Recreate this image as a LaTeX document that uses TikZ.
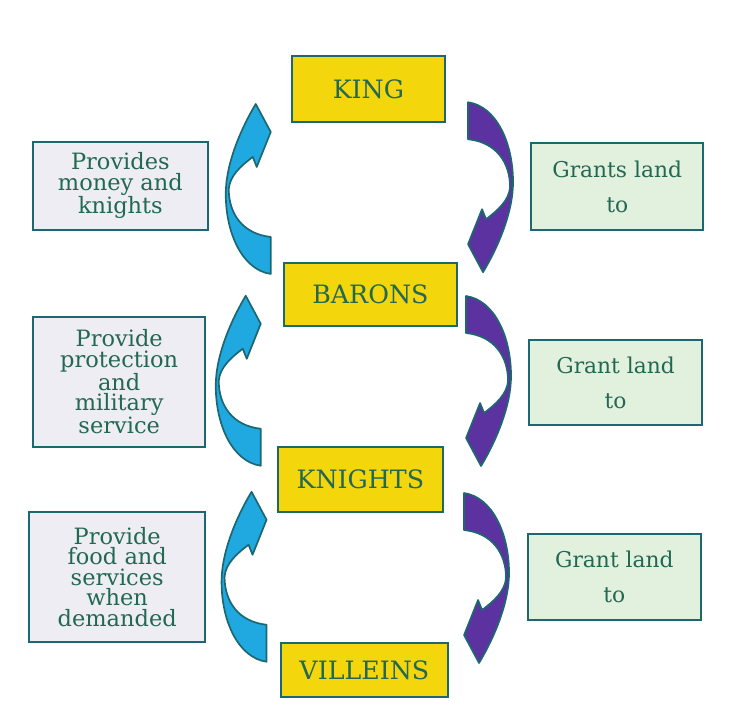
\documentclass[tikz,border=0pt]{standalone}
\usepackage{fontspec}
\setmainfont{DejaVu Serif}
\usepackage{xcolor}
\usepackage{tikz}
\usetikzlibrary{calc}

\definecolor{edgeteal}{RGB}{28,104,112}
\definecolor{textgreen}{RGB}{34,104,82}
\definecolor{rankyellow}{RGB}{243,214,12}
\definecolor{dutyfill}{RGB}{237,237,243}
\definecolor{grantfill}{RGB}{226,240,222}
\definecolor{ribboncyan}{RGB}{32,168,224}
\definecolor{ribbonpurple}{RGB}{92,50,160}

\begin{document}
\begin{tikzpicture}[
  rank/.style={draw=edgeteal, line width=1.5pt, fill=rankyellow, text=textgreen, font=\fontsize{18}{20}\selectfont},
  duty/.style={draw=edgeteal, line width=1.5pt, fill=dutyfill, text=textgreen, align=center, inner sep=0pt, font=\fontsize{16}{14.5}\selectfont},
  grant/.style={draw=edgeteal, line width=1.5pt, fill=grantfill, text=textgreen, align=center, inner sep=0pt, font=\fontsize{15.5}{25}\selectfont},
  upribbon/.style={fill=ribboncyan, draw=edgeteal, line width=1.2pt, line join=round},
  downribbon/.style={fill=ribbonpurple, draw=edgeteal, line width=1.2pt, line join=round, rotate=180},
  ribbon/.pic={
    \path[#1, x=0.025cm, y=0.025cm] (-15,170) -- (0,142) -- (-14,107) -- (-18,117)
      .. controls (-30,108) and (-41,98) .. (-42,85)
      .. controls (-42,60) and (-28,40) .. (0,37) -- (0,0)
      .. controls (-28,4) and (-45,40) .. (-45,80)
      .. controls (-45,110) and (-30,145) .. cycle;
  }
]
\useasboundingbox (0,0) rectangle (18.55,17.925);

\node[rank, minimum width=3.83cm, minimum height=1.65cm] (king) at (9.21,15.7) {KING};
\node[rank, minimum width=4.33cm, minimum height=1.58cm] (barons) at (9.26,10.56) {BARONS};
\node[rank, minimum width=4.13cm, minimum height=1.63cm] (knights) at (9.01,5.94) {KNIGHTS};
\node[rank, minimum width=4.18cm, minimum height=1.35cm] (villeins) at (9.11,1.18) {VILLEINS};

\node[duty, minimum width=4.38cm, minimum height=2.2cm] (money) at (3.01,13.28) {Provides\\money and\\knights};
\node[duty, minimum width=4.3cm, minimum height=3.25cm] (protection) at (2.98,8.38) {Provide\\protection\\and\\military\\service};
\node[duty, minimum width=4.4cm, minimum height=3.25cm] (food) at (2.93,3.5) {Provide\\food and\\services\\when\\demanded};

\node[grant, minimum width=4.3cm, minimum height=2.18cm] (grants) at (15.43,13.26) {Grants land\\to};
\node[grant, minimum width=4.33cm, minimum height=2.13cm] (grantbar) at (15.39,8.36) {Grant land\\to};
\node[grant, minimum width=4.33cm, minimum height=2.15cm] (grantkn) at (15.36,3.5) {Grant land\\to};

% services go up
\pic at ($(barons.north west)+(-0.3,-0.3)$) {ribbon=upribbon};
\pic at ($(knights.north west)+(-0.4,-0.5)$) {ribbon=upribbon};
\pic at ($(villeins.north west)+(-0.33,-0.5)$) {ribbon=upribbon};
% land goes down
\pic at ($(king.south east)+(0.55,0.52)$) {ribbon=downribbon};
\pic at ($(barons.south east)+(0.2,0.78)$) {ribbon=downribbon};
\pic at ($(knights.south east)+(0.5,0.5)$) {ribbon=downribbon};
\end{tikzpicture}
\end{document}
